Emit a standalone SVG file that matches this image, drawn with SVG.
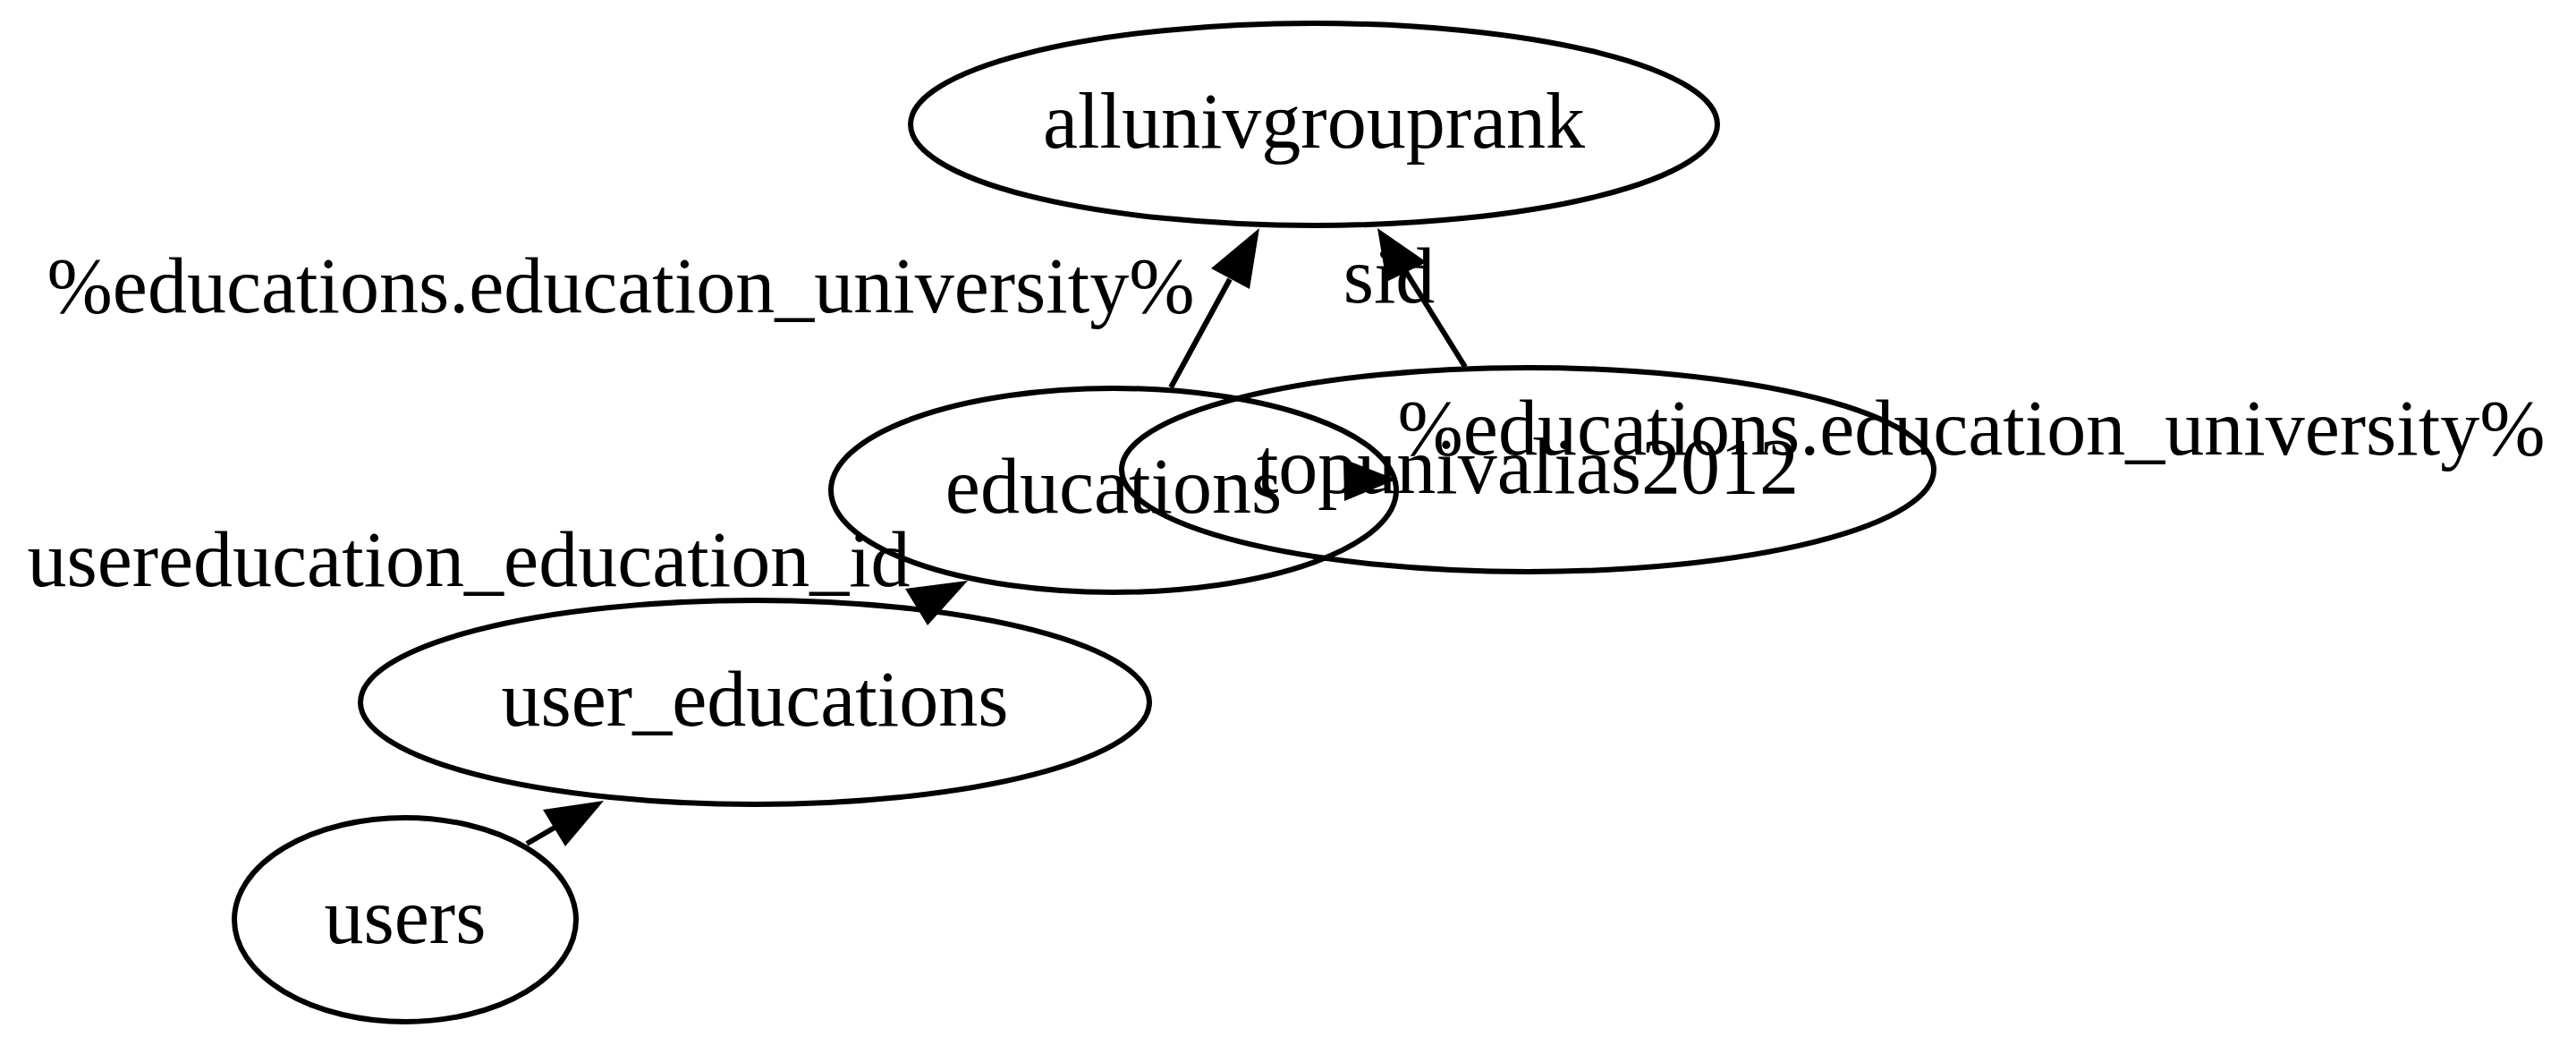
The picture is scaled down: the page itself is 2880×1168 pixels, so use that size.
<svg xmlns="http://www.w3.org/2000/svg" width="2880" height="1168" viewBox="0 0 2880 1168">
<style>
.node ellipse{fill:none;stroke:#000;stroke-width:6}
text{font-family:"Liberation Serif","Times New Roman",serif;font-size:88px;fill:#000}
.edge path{fill:none;stroke:#000;stroke-width:6}
.edge polygon{fill:#000;stroke:none}
</style>
<rect x="0" y="0" width="2880" height="1168" fill="#fff"/>
<g id="node-allunivgrouprank" class="node">
<ellipse cx="1469" cy="139" rx="451" ry="113"/>
<text x="1469" y="165" text-anchor="middle">allunivgrouprank</text>
</g>
<g id="node-educations" class="node">
<ellipse cx="1245" cy="548" rx="316" ry="114"/>
<text x="1245" y="573" text-anchor="middle">educations</text>
</g>
<g id="node-topunivalias2012" class="node">
<ellipse cx="1708" cy="525" rx="454" ry="114"/>
<text x="1708" y="551" text-anchor="middle">topunivalias2012</text>
</g>
<g id="node-user_educations" class="node">
<ellipse cx="844" cy="785" rx="441" ry="114"/>
<text x="844" y="811" text-anchor="middle">user_educations</text>
</g>
<g id="node-users" class="node">
<ellipse cx="453" cy="1028" rx="191" ry="114"/>
<text x="453" y="1054" text-anchor="middle">users</text>
</g>
<g id="edges">
<g class="edge" id="edge-educations-allunivgrouprank">
<path d="M1309,433 L1375,312"/>
<polygon points="1354,300 1408,255 1397,323"/>
<text x="694" y="349" text-anchor="middle">%educations.education_university%</text>
</g>
<g class="edge" id="edge-topunivalias2012-allunivgrouprank">
<path d="M1638,410 L1572,304"/>
<polygon points="1550,315 1540,255 1595,293"/>
<text x="1553" y="338" text-anchor="middle">sid</text>
</g>
<g class="edge" id="edge-educations-topunivalias2012">
<polygon points="1502,513 1561,536 1503,560"/>
<text x="2204" y="508" text-anchor="middle">%educations.education_university%</text>
</g>
<g class="edge" id="edge-educations-user_educations">
<polygon points="1012,658 1082,649 1037,699"/>
<text x="524" y="655" text-anchor="middle">usereducation_education_id</text>
</g>
<g class="edge" id="edge-users-user_educations">
<path d="M589,943 L620,925"/>
<polygon points="607,905 675,895 632,946"/>
</g>
</g>
</svg>
